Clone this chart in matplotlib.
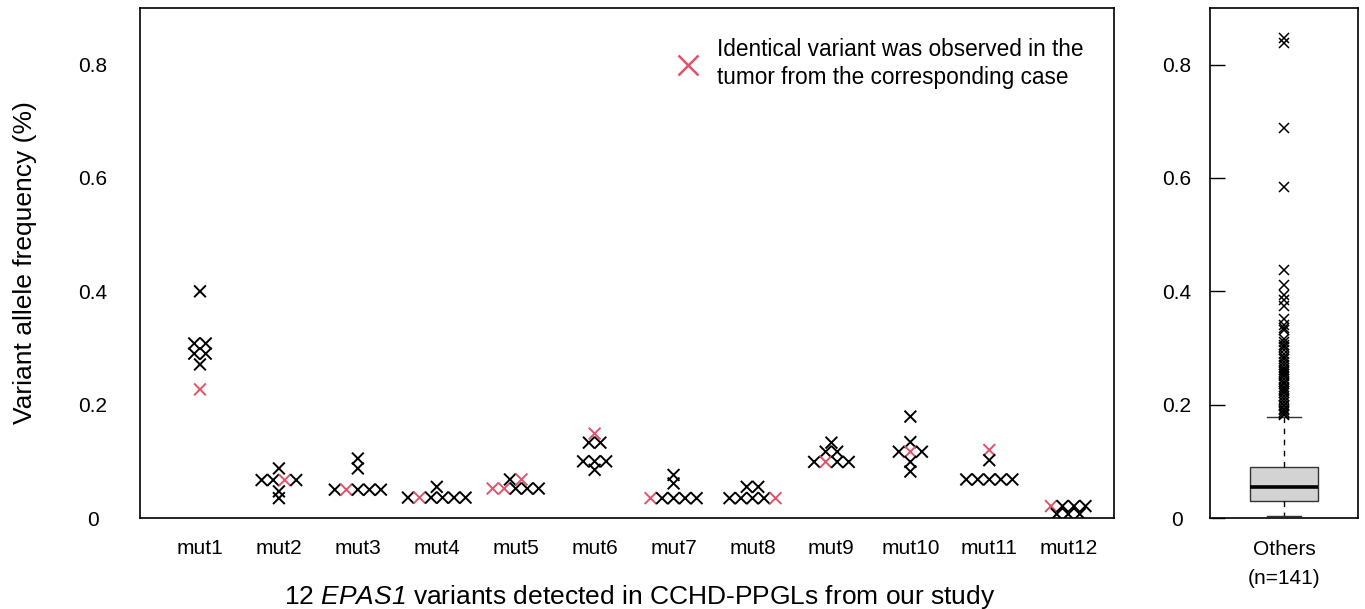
import numpy as np
import matplotlib
matplotlib.use("Agg")
import matplotlib.pyplot as plt
from matplotlib.lines import Line2D

plt.rcParams["font.family"] = ["Liberation Sans", "DejaVu Sans"]
plt.rcParams["mathtext.fontset"] = "custom"
plt.rcParams["mathtext.rm"] = "Liberation Sans"
plt.rcParams["mathtext.sf"] = "Liberation Sans:italic"

# variant allele frequencies per variant (data order), 1 = also seen in tumor
groups = ["mut1", "mut2", "mut3", "mut4", "mut5", "mut6",
          "mut7", "mut8", "mut9", "mut10", "mut11", "mut12"]
vaf = [
    [0.400, 0.308, 0.308, 0.290, 0.290, 0.271, 0.227],
    [0.0875, 0.067, 0.067, 0.067, 0.067, 0.047, 0.035],
    [0.105, 0.0875, 0.050, 0.050, 0.050, 0.050, 0.050],
    [0.055, 0.036, 0.036, 0.036, 0.036, 0.036, 0.036],
    [0.068, 0.068, 0.052, 0.052, 0.052, 0.052, 0.052],
    [0.149, 0.133, 0.133, 0.100, 0.100, 0.100, 0.085],
    [0.076, 0.061, 0.035, 0.035, 0.035, 0.035, 0.035],
    [0.055, 0.055, 0.035, 0.035, 0.035, 0.035, 0.035],
    [0.133, 0.117, 0.117, 0.099, 0.099, 0.099, 0.099],
    [0.179, 0.134, 0.117, 0.117, 0.117, 0.099, 0.082],
    [0.120, 0.102, 0.068, 0.068, 0.068, 0.068, 0.068],
    [0.021, 0.021, 0.021, 0.021, 0.007, 0.007, 0.007],
]
in_tumor = [
    [0, 0, 0, 0, 0, 0, 1],
    [0, 0, 0, 1, 0, 0, 0],
    [0, 0, 0, 1, 0, 0, 0],
    [0, 0, 1, 0, 0, 0, 0],
    [0, 1, 1, 1, 0, 0, 0],
    [1, 0, 0, 0, 0, 0, 0],
    [0, 0, 1, 0, 0, 0, 0],
    [0, 0, 0, 0, 0, 0, 1],
    [0, 0, 0, 0, 1, 0, 0],
    [0, 0, 0, 1, 0, 0, 0],
    [1, 0, 0, 0, 0, 0, 0],
    [1, 0, 0, 0, 0, 0, 0],
]

# other EPAS1 variants (n=141): box summary + outliers
others_box = dict(q1=0.0305, med=0.054, q3=0.0904, whislo=0.003, whishi=0.179)
others_outliers = [0.847, 0.838, 0.688, 0.585, 0.437, 0.411, 0.393, 0.384,
                   0.375, 0.352, 0.340, 0.336, 0.332, 0.316, 0.310, 0.305,
                   0.302, 0.296, 0.290, 0.285, 0.280, 0.275, 0.270, 0.265,
                   0.262, 0.258, 0.255, 0.250, 0.245, 0.240, 0.236, 0.232,
                   0.228, 0.225, 0.220, 0.215, 0.210, 0.205, 0.200, 0.197,
                   0.193, 0.190, 0.187, 0.184, 0.181]

red = "#DF536B"
yticks = [0, 0.2, 0.4, 0.6, 0.8]
yticklabels = ["0", "0.2", "0.4", "0.6", "0.8"]

fig = plt.figure(figsize=(13.65, 6.09), dpi=100)
ax = fig.add_axes([140 / 1365, 91 / 609, 974 / 1365, 510 / 609])
ax2 = fig.add_axes([1210 / 1365, 91 / 609, 148 / 1365, 510 / 609])

# points in the same row spread out side by side, centred on the group
dx = 0.146
for i, (vals, flags) in enumerate(zip(vaf, in_tumor)):
    v = np.array(vals)
    off = np.zeros(len(v))
    for u in np.unique(v):
        idx = np.where(v == u)[0]
        off[idx] = (np.arange(len(idx)) - (len(idx) - 1) / 2) * dx
    cols = [red if f else "black" for f in flags]
    ax.scatter(i + 1 + off, v, marker="x", s=72, c=cols, linewidths=1.4)

ax.set_xlim(0.24, 12.58)
ax.set_ylim(0, 0.9)
ax.set_xticks(range(1, len(groups) + 1))
ax.set_xticklabels(groups)
ax.set_yticks(yticks)
ax.set_yticklabels(yticklabels)
ax.tick_params(axis="x", length=0, pad=15, labelsize=15)
ax.tick_params(axis="y", length=0, pad=34, labelsize=15)
for lab in ax.get_yticklabels():
    lab.set_horizontalalignment("center")
ax.set_ylabel("Variant allele frequency (%)", fontsize=19)
ax.yaxis.set_label_coords(-0.106, 0.5)
ax.set_xlabel(r"12 $\mathsf{EPAS1}$ variants detected in CCHD-PPGLs from our study", fontsize=19)
ax.xaxis.set_label_coords(0.513, -0.127)
for sp in ax.spines.values():
    sp.set_linewidth(1.2)

handle = Line2D([], [], ls="none", marker="x", color=red, markersize=14, mew=1.8)
leg = ax.legend([handle], ["Identical variant was observed in the\ntumor from the corresponding case"],
                loc="upper left", bbox_to_anchor=(0.551, 0.942), frameon=False, fontsize=16.3,
                handlelength=1.0, handletextpad=0.8, borderpad=0, borderaxespad=0)
for t in leg.get_texts():
    t.set_linespacing(1.32)

# Others box plot
stats = dict(others_box, fliers=others_outliers, label="Others\n(n=141)")
ax2.bxp([stats], positions=[1], widths=0.466, patch_artist=True,
        boxprops=dict(facecolor="#D3D3D3", edgecolor="#333333", linewidth=1),
        medianprops=dict(color="black", linewidth=2.6),
        whiskerprops=dict(color="black", linewidth=1, linestyle=(0, (4, 4))),
        capprops=dict(color="#333333", linewidth=1),
        flierprops=dict(marker="x", markersize=7.5, markeredgewidth=1.1,
                        markeredgecolor="black", linestyle="none"))
ax2.set_xlim(0.5, 1.5)
ax2.set_ylim(0, 0.9)
ax2.set_yticks(yticks)
ax2.set_yticklabels(yticklabels)
ax2.tick_params(axis="y", direction="in", length=11, width=1, pad=24, labelsize=15)
for lab in ax2.get_yticklabels():
    lab.set_horizontalalignment("center")
ax2.tick_params(axis="x", length=0, pad=16, labelsize=15)
for lab in ax2.get_xticklabels():
    lab.set_linespacing(1.65)
for sp in ax2.spines.values():
    sp.set_linewidth(1.2)

fig.savefig("out.png", dpi=100)
